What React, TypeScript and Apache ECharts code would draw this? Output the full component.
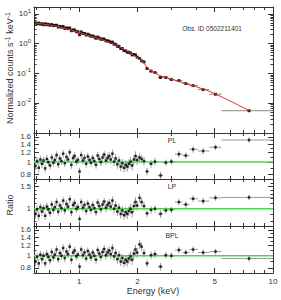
import React, { useEffect, useRef } from "react";
import * as echarts from "echarts";

// ---------- data ----------
const denseEnergy = [
  0.595, 0.607, 0.619, 0.631, 0.643, 0.655, 0.668, 0.681, 0.694, 0.708,
  0.722, 0.736, 0.75, 0.765, 0.78, 0.795, 0.811, 0.827, 0.843, 0.86,
  0.877, 0.894, 0.912, 0.93, 0.948, 0.967, 0.986, 1.005, 1.025, 1.045,
  1.066, 1.087, 1.108, 1.13, 1.152, 1.175, 1.198, 1.222, 1.246, 1.27,
  1.295, 1.321, 1.347, 1.374, 1.401, 1.428, 1.456, 1.485, 1.514, 1.544,
  1.575, 1.606, 1.638, 1.67, 1.703, 1.737, 1.771, 1.806, 1.842, 1.878,
  1.915, 1.953, 1.992,
];
const denseFlux = [
  4.97, 4.61, 4.93, 4.53, 4.65, 4.31, 4.69, 4.31, 4.46, 4.11,
  4.39, 4.04, 4.1, 4.14, 3.62, 3.81, 3.56, 3.76, 3.24, 3.39,
  3.19, 3.35, 2.73, 2.89, 2.85, 2.53, 2.49, 2.0, 2.48, 2.2,
  2.2, 1.94, 2.08, 1.92, 1.77, 1.81, 1.68, 1.51, 1.67, 1.53,
  1.4, 1.43, 1.42, 1.25, 1.24, 1.21, 1.09, 1.13, 0.96, 0.945,
  0.816, 0.806, 0.688, 0.686, 0.59, 0.576, 0.52, 0.51, 0.485, 0.418,
  0.43, 0.418, 0.352,
];
const denseErr = [
  0.08, 0.07, 0.08, 0.07, 0.08, 0.07, 0.07, 0.08, 0.07, 0.07,
  0.07, 0.07, 0.07, 0.07, 0.07, 0.07, 0.07, 0.07, 0.07, 0.07,
  0.07, 0.07, 0.07, 0.07, 0.07, 0.07, 0.07, 0.07, 0.07, 0.07,
  0.07, 0.07, 0.07, 0.07, 0.07, 0.07, 0.07, 0.07, 0.07, 0.07,
  0.07, 0.07, 0.07, 0.08, 0.08, 0.08, 0.08, 0.08, 0.08, 0.08,
  0.08, 0.08, 0.08, 0.08, 0.08, 0.09, 0.09, 0.09, 0.09, 0.09,
  0.09, 0.09, 0.09,
];
const densePL = [
  0.93, 1.02, 0.9, 1.05, 0.97, 1.03, 0.89, 1.06, 1.0, 0.94,
  1.09, 0.99, 1.04, 1.14, 0.96, 1.07, 1.02, 1.17, 0.98, 1.1,
  1.05, 1.2, 0.95, 1.08, 1.12, 1.01, 1.04, 0.84, 1.14, 1.03,
  1.08, 0.97, 1.11, 1.04, 0.99, 1.08, 1.02, 0.95, 1.13, 1.06,
  1.0, 1.09, 1.15, 1.03, 1.08, 1.12, 1.05, 1.17, 1.01, 1.07,
  0.96, 1.03, 0.92, 0.98, 0.9, 0.95, 0.92, 0.97, 1.01, 0.94,
  1.05, 1.12, 1.04,
];
const denseLP = [
  0.91, 0.99, 0.88, 1.03, 0.95, 1.01, 0.88, 1.04, 0.99, 0.93,
  1.08, 0.98, 1.03, 1.13, 0.95, 1.06, 1.01, 1.16, 0.97, 1.09,
  1.04, 1.19, 0.94, 1.07, 1.11, 1.0, 1.03, 0.83, 1.13, 1.02,
  1.07, 0.96, 1.1, 1.03, 0.98, 1.07, 1.01, 0.94, 1.12, 1.05,
  0.99, 1.08, 1.14, 1.02, 1.07, 1.11, 1.04, 1.16, 1.0, 1.06,
  0.95, 1.02, 0.91, 0.97, 0.89, 0.94, 0.91, 0.96, 1.0, 0.94,
  1.05, 1.13, 1.06,
];
const denseBPL = [
  0.9, 0.98, 0.87, 1.02, 0.94, 1.0, 0.87, 1.03, 0.98, 0.92,
  1.07, 0.97, 1.02, 1.12, 0.94, 1.05, 1.0, 1.15, 0.96, 1.08,
  1.03, 1.18, 0.93, 1.06, 1.1, 0.99, 1.02, 0.82, 1.12, 1.01,
  1.06, 0.95, 1.09, 1.02, 0.97, 1.06, 1.0, 0.93, 1.11, 1.04,
  0.98, 1.07, 1.13, 1.01, 1.06, 1.1, 1.03, 1.15, 0.99, 1.05,
  0.94, 1.01, 0.9, 0.96, 0.88, 0.93, 0.9, 0.95, 0.99, 0.93,
  1.04, 1.12, 1.06,
];

const sparseEnergy = [2.05, 2.1, 2.16, 2.24, 2.35, 2.46, 2.63, 2.8, 2.99, 3.27, 3.55, 3.87, 4.36, 5.05, 7.52];
const sparseLo = [2.02, 2.075, 2.13, 2.2, 2.29, 2.4, 2.54, 2.71, 2.89, 3.12, 3.41, 3.7, 4.1, 4.7, 5.42];
const sparseHi = [2.075, 2.13, 2.2, 2.29, 2.4, 2.54, 2.71, 2.89, 3.12, 3.41, 3.7, 4.1, 4.7, 5.42, 10];
const sparseFlux = [0.318, 0.264, 0.244, 0.146, 0.119, 0.107, 0.073, 0.073, 0.0624, 0.0575, 0.0457, 0.039, 0.0287, 0.02, 0.0056];
const sparseErr = [0.08, 0.08, 0.08, 0.07, 0.07, 0.07, 0.07, 0.06, 0.06, 0.06, 0.06, 0.06, 0.06, 0.05, 0.05];
const sparsePL = [1.09, 1.06, 1.02, 0.84, 0.97, 1.01, 0.78, 0.99, 1.01, 1.16, 1.13, 1.27, 1.23, 1.32, 1.51];
const sparseLP = [1.22, 1.13, 1.05, 0.92, 0.98, 1.0, 0.91, 0.97, 0.98, 1.13, 1.08, 1.2, 1.15, 1.22, 1.23];
const sparseBPL = [1.23, 1.18, 1.05, 0.87, 1.01, 1.03, 0.82, 1.01, 1.0, 1.11, 1.06, 1.12, 1.06, 1.08, 0.95];

const modelEnergy = [0.59, 0.7, 0.8, 0.9, 1.0, 1.1, 1.2, 1.3, 1.4, 1.5, 1.6, 1.7, 1.8, 1.9, 2.0, 2.1, 2.2, 2.3, 2.4, 2.6, 2.8, 3.0, 3.5, 4.0, 4.5, 5.0, 6.0, 7.52];
const modelFlux = [4.9, 4.3, 3.6, 2.95, 2.35, 1.95, 1.65, 1.4, 1.17, 0.97, 0.79, 0.65, 0.52, 0.42, 0.34, 0.27, 0.19, 0.135, 0.112, 0.085, 0.073, 0.063, 0.047, 0.036, 0.028, 0.021, 0.012, 0.0057];

const xMajorTicks = [1, 2, 5, 10];
const xMinorTicks = [0.6, 0.7, 0.8, 0.9, 3, 4, 6, 7, 8, 9];
const topMajorTicks = [0.01, 0.1, 1, 10];
const topMinorTicks = [
  0.002, 0.003, 0.004, 0.005, 0.006, 0.007, 0.008, 0.009,
  0.02, 0.03, 0.04, 0.05, 0.06, 0.07, 0.08, 0.09,
  0.2, 0.3, 0.4, 0.5, 0.6, 0.7, 0.8, 0.9,
  2, 3, 4, 5, 6, 7, 8, 9,
];
// ratio tick labels: [axis labels, top label on second axis, label drawn by a custom series]
const ratioLabelsPL = [[0.8, 1, 1.2, 1.4], [1.6], []];
const ratioLabelsLP = [[1], [], [1.5]];
const ratioLabelsBPL = [[0.8, 1, 1.2, 1.4], [1.6], []];
const ratioMinorTicks = [0.8, 0.9, 1.0, 1.1, 1.2, 1.3, 1.4, 1.5, 1.6, 1.7];

const panelNames = ["PL", "LP", "BPL"];

// ---------- helpers ----------
const L = Math.log10;
const X_MIN = 0.585;
const X_MAX = 10;
const TOP_MIN = 0.001;
const TOP_MAX = 17;
const R_MIN = 0.73;
const R_MAX = 1.72;
const FONT = "Liberation Sans, Arial, Helvetica, sans-serif";
const FRAME = "#333";
const GRID_LEFT = 34;

const energy = [...denseEnergy, ...sparseEnergy];
const flux = [...denseFlux, ...sparseFlux];
const relErr = [...denseErr, ...sparseErr];
const binLo = [
  ...denseEnergy.map((e, i) => (i === 0 ? e - (denseEnergy[1] - e) / 2 : (denseEnergy[i - 1] + e) / 2)),
  ...sparseLo,
];
const binHi = [
  ...denseEnergy.map((e, i) => (i === denseEnergy.length - 1 ? sparseLo[0] : (denseEnergy[i + 1] + e) / 2)),
  ...sparseHi,
];
const ratioSets = [
  [...densePL, ...sparsePL],
  [...denseLP, ...sparseLP],
  [...denseBPL, ...sparseBPL],
];
const ratioLabelSets = [ratioLabelsPL, ratioLabelsLP, ratioLabelsBPL];

function errData(vals: number[]) {
  return vals.map((v, i) => [
    L(binLo[i]), L(binHi[i]), L(energy[i]),
    L(v * (1 - relErr[i])), L(v * (1 + relErr[i])), L(v),
  ]);
}

function errRenderer(color: string) {
  return (params: any, api: any) => {
    const y = api.value(5);
    const x = api.value(2);
    const a = api.coord([api.value(0), y]);
    const b = api.coord([api.value(1), y]);
    const c = api.coord([x, api.value(3)]);
    const d = api.coord([x, api.value(4)]);
    return {
      type: "group",
      children: [
        { type: "line", shape: { x1: a[0], y1: a[1], x2: b[0], y2: b[1] }, style: { stroke: color, lineWidth: 1 } },
        { type: "line", shape: { x1: c[0], y1: c[1], x2: d[0], y2: d[1] }, style: { stroke: color, lineWidth: 1 } },
      ],
    };
  };
}

// draws a tick label to the left of the y axis, at the value's position on the axis scale
function tickLabelRenderer(params: any, api: any) {
  const pt = api.coord([api.value(0), api.value(1)]);
  const v = Math.pow(10, api.value(1));
  return {
    type: "text",
    x: pt[0] - 3,
    y: pt[1],
    style: {
      text: String(+v.toFixed(1)),
      fontSize: 7.5, fontFamily: FONT, fill: "#333",
      align: "right", verticalAlign: "middle",
    },
  };
}

const supRich = {
  b: { fontSize: 8, fontFamily: FONT, color: "#333", lineHeight: 12 },
  s: { fontSize: 6, fontFamily: FONT, color: "#333", verticalAlign: "top", lineHeight: 12 },
};

function makeXAxes(gi: number, showLabels: boolean) {
  const axes: any[] = [];
  for (const pos of ["bottom", "top"]) {
    axes.push({
      type: "value", gridIndex: gi, position: pos, min: L(X_MIN), max: L(X_MAX),
      axisLine: { show: true, onZero: false, lineStyle: { color: FRAME, width: 1 } },
      axisTick: { show: true, inside: true, length: 5, customValues: xMajorTicks.map(L), lineStyle: { color: FRAME } },
      axisLabel: {
        show: showLabels && pos === "bottom",
        customValues: xMajorTicks.map(L),
        formatter: (v: number) => String(Math.round(Math.pow(10, v))),
        fontSize: 8, fontFamily: FONT, color: "#333", margin: 4,
        showMinLabel: true, showMaxLabel: true,
      },
      splitLine: { show: false },
    });
    axes.push({
      type: "value", gridIndex: gi, position: pos, min: L(X_MIN), max: L(X_MAX),
      axisLine: { show: false, onZero: false },
      axisTick: { show: true, inside: true, length: 3, customValues: xMinorTicks.map(L), lineStyle: { color: FRAME } },
      axisLabel: { show: false },
      splitLine: { show: false },
    });
  }
  return axes;
}

function makeYAxes(
  gi: number, min: number, max: number, major: number[], minor: number[],
  labels: number[], extraLabels: number[], fmt: (v: number) => string, rich?: any,
) {
  const axes: any[] = [];
  const labelBase = {
    formatter: fmt, fontSize: 7.5, fontFamily: FONT, color: "#333", margin: 3,
    showMinLabel: true, showMaxLabel: true,
    ...(rich ? { rich } : {}),
  };
  for (const pos of ["left", "right"]) {
    axes.push({
      type: "value", gridIndex: gi, position: pos, min: L(min), max: L(max),
      axisLine: { show: true, onZero: false, lineStyle: { color: FRAME, width: 1 } },
      axisTick: { show: true, inside: true, length: 5, customValues: major.map(L), lineStyle: { color: FRAME } },
      axisLabel: { ...labelBase, show: pos === "left", customValues: labels.map(L) },
      splitLine: { show: false },
    });
    axes.push({
      type: "value", gridIndex: gi, position: pos, min: L(min), max: L(max),
      axisLine: { show: false, onZero: false },
      axisTick: { show: true, inside: true, length: 2.5, customValues: minor.map(L), lineStyle: { color: FRAME } },
      axisLabel: extraLabels.length && pos === "left"
        ? { ...labelBase, show: true, customValues: extraLabels.map(L) }
        : { show: false },
      splitLine: { show: false },
    });
  }
  return axes;
}

export default function App() {
  const ref = useRef<HTMLDivElement>(null);

  useEffect(() => {
    if (!ref.current) return;
    const chart = echarts.init(ref.current, null, { renderer: "svg" });

    const grids = [
      { left: GRID_LEFT, right: 8, top: 7, height: 126 },
      { left: GRID_LEFT, right: 8, top: 133, height: 46 },
      { left: GRID_LEFT, right: 8, top: 179, height: 47 },
      { left: GRID_LEFT, right: 8, top: 226, height: 47 },
    ];

    const xAxis: any[] = [];
    const yAxis: any[] = [];
    const xIdx: number[] = [];
    const yIdx: number[] = [];
    for (let g = 0; g < 4; g++) {
      xIdx.push(xAxis.length);
      xAxis.push(...makeXAxes(g, g === 3));
      yIdx.push(yAxis.length);
      if (g === 0) {
        yAxis.push(...makeYAxes(0, TOP_MIN, TOP_MAX, topMajorTicks, topMinorTicks, topMajorTicks, [],
          (v: number) => "{b|10}{s|" + Math.round(v) + "}", supRich));
      } else {
        const [labs, extra, viaSeries] = ratioLabelSets[g - 1];
        yAxis.push(...makeYAxes(g, R_MIN, R_MAX, [...labs, ...extra, ...viaSeries], ratioMinorTicks, labs, extra,
          (v: number) => String(+Math.pow(10, v).toFixed(1))));
      }
    }

    const series: any[] = [];
    // top panel
    series.push({
      type: "custom", xAxisIndex: xIdx[0], yAxisIndex: yIdx[0], clip: true,
      renderItem: errRenderer("#888"), data: errData(flux), z: 2,
      encode: { x: [0, 1, 2], y: [3, 4, 5] },
    });
    series.push({
      type: "scatter", xAxisIndex: xIdx[0], yAxisIndex: yIdx[0], symbol: "rect", symbolSize: 3,
      itemStyle: { color: "#000" }, data: energy.map((e, i) => [L(e), L(flux[i])]), z: 3,
    });
    series.push({
      type: "line", xAxisIndex: xIdx[0], yAxisIndex: yIdx[0], showSymbol: false, symbol: "none",
      lineStyle: { color: "#e8332b", width: 1 }, data: modelEnergy.map((e, i) => [L(e), L(modelFlux[i])]), z: 4,
    });
    // ratio panels
    for (let p = 0; p < 3; p++) {
      const g = p + 1;
      const r = ratioSets[p];
      series.push({
        type: "custom", xAxisIndex: xIdx[g], yAxisIndex: yIdx[g], clip: true,
        renderItem: errRenderer("#9a9a9a"), data: errData(r), z: 2,
        encode: { x: [0, 1, 2], y: [3, 4, 5] },
      });
      series.push({
        type: "line", xAxisIndex: xIdx[g], yAxisIndex: yIdx[g], showSymbol: false, symbol: "none",
        lineStyle: { color: "#4fd44f", width: 1.5 }, data: [[L(X_MIN), 0], [L(X_MAX), 0]], z: 3,
      });
      series.push({
        type: "scatter", xAxisIndex: xIdx[g], yAxisIndex: yIdx[g], symbol: "rect", symbolSize: 2.5,
        itemStyle: { color: "#000" }, data: energy.map((e, i) => [L(e), L(r[i])]), z: 4,
      });
      const viaSeries = ratioLabelSets[p][2];
      if (viaSeries.length) {
        series.push({
          type: "custom", xAxisIndex: xIdx[g], yAxisIndex: yIdx[g], clip: false, silent: true,
          renderItem: tickLabelRenderer, data: viaSeries.map((v) => [L(X_MIN), L(v)]), z: 5,
          encode: { x: 0, y: 1 },
        });
      }
    }

    const graphic: any[] = [
      {
        type: "text", x: 10, y: 68, rotation: Math.PI / 2,
        style: {
          text: "{b|Normalized counts s}{s|-1}{b| keV}{s|-1}",
          rich: {
            b: { fontSize: 9, fontFamily: FONT, fill: "#333", lineHeight: 12 },
            s: { fontSize: 7, fontFamily: FONT, fill: "#333", verticalAlign: "top", lineHeight: 12 },
          },
          align: "center", verticalAlign: "middle",
        },
      },
      {
        type: "text", x: 10, y: 205, rotation: Math.PI / 2,
        style: { text: "Ratio", fontSize: 9, fontFamily: FONT, fill: "#333", align: "center", verticalAlign: "middle" },
      },
      {
        type: "text", x: 153, y: 291,
        style: { text: "Energy (keV)", fontSize: 9, fontFamily: FONT, fill: "#333", align: "center", verticalAlign: "middle" },
      },
      {
        type: "text", x: 212, y: 28,
        style: { text: "Obs. ID 0502211401", fontSize: 6.5, fontFamily: FONT, fill: "#333", align: "center", verticalAlign: "middle" },
      },
    ];
    const labelY = [140, 186, 235];
    panelNames.forEach((n, i) => {
      graphic.push({
        type: "text", x: 172, y: labelY[i],
        style: { text: n, fontSize: 7, fontFamily: FONT, fill: "#333", align: "center", verticalAlign: "middle" },
      });
    });

    chart.setOption({
      animation: false,
      backgroundColor: "#fff",
      grid: grids,
      xAxis,
      yAxis,
      series,
      graphic,
    });

    return () => chart.dispose();
  }, []);

  return (
    <div
      ref={ref}
      style={{ position: "fixed", left: 0, top: 0, width: 281, height: 300 }}
    />
  );
}
